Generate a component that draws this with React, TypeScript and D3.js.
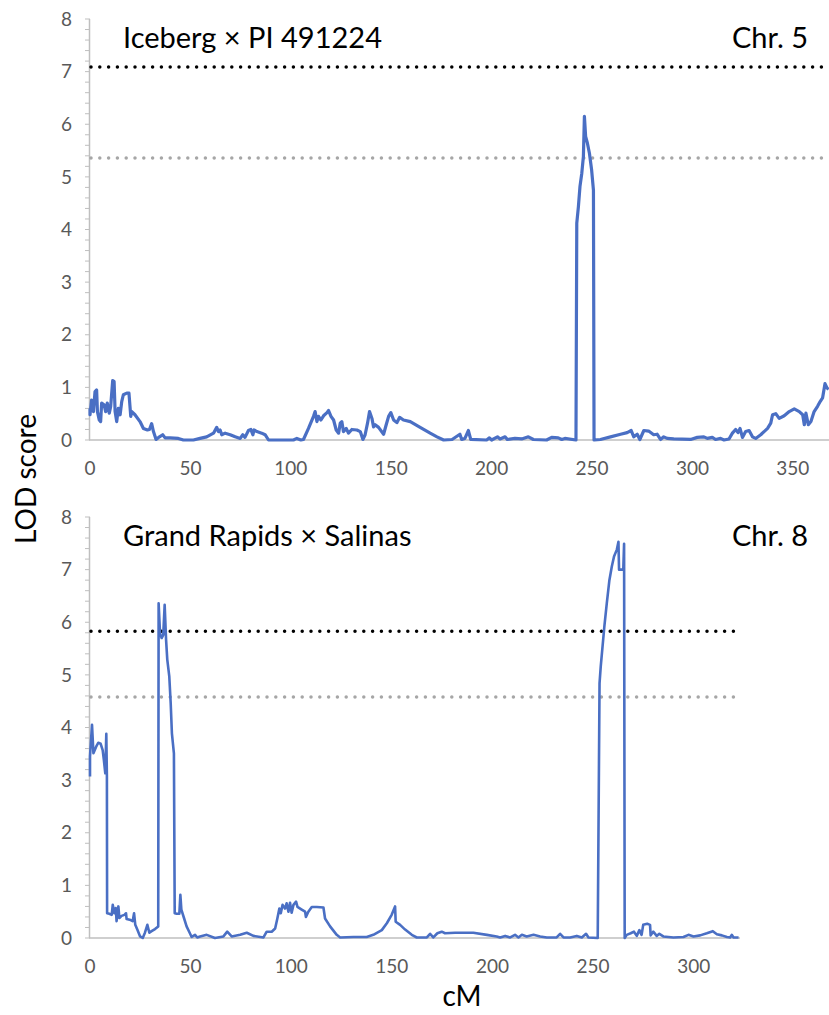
import * as d3 from "d3";

// LOD profiles: [cM, LOD]
const chr5Points: [number, number][] = [
  [0, 0.6], [0, 0.48], [0.8, 0.76], [1.7, 0.54], [2.5, 0.92], [3.3, 0.95], [3.7, 0.54], [4.6, 0.38],
  [5.3, 0.35], [5.8, 0.7], [7.0, 0.67], [7.8, 0.54], [8.6, 0.7], [9.6, 0.51], [10.3, 0.64], [11.3, 1.13],
  [12.0, 1.11], [12.5, 0.54], [13.3, 0.35], [14.1, 0.6], [15.0, 0.48], [15.8, 0.73], [16.6, 0.86],
  [18.3, 0.89], [19.4, 0.89], [20.3, 0.45], [20.8, 0.54], [22.4, 0.48], [24.9, 0.35], [26.6, 0.22],
  [28.6, 0.19], [29.6, 0.2], [30.7, 0.31], [31.6, 0.16], [32.9, 0.01], [34.6, 0.06], [36.2, 0.1],
  [37.4, 0.04], [39.9, 0.04], [44.0, 0.03], [46.5, 0], [51.5, 0], [54.8, 0.03], [58.1, 0.06],
  [61.5, 0.13], [63.1, 0.24], [64.0, 0.16], [64.8, 0.19], [65.6, 0.1], [67.3, 0.13], [69.8, 0.1],
  [72.3, 0.06], [74.8, 0.03], [76.1, 0.1], [77.2, 0.05], [78.9, 0.18], [80.1, 0.2], [81.1, 0.1],
  [81.7, 0.19], [83.1, 0.16], [85.5, 0.13], [87.2, 0.1], [88.9, 0], [101.3, 0], [103.0, 0.03],
  [105.0, 0], [106.3, 0.01], [108.8, 0.22], [111.3, 0.45], [112.1, 0.54], [113.0, 0.35], [113.8, 0.45],
  [115.0, 0.38], [116.3, 0.46], [118.0, 0.52], [118.8, 0.56], [120.0, 0.45], [121.3, 0.38],
  [122.6, 0.19], [123.8, 0.13], [124.6, 0.32], [125.4, 0.35], [126.2, 0.16], [127.6, 0.22],
  [128.7, 0.13], [130.4, 0.2], [132.9, 0.19], [134.6, 0.16], [135.9, 0.01], [137.0, 0.1],
  [138.2, 0.32], [139.2, 0.54], [140.4, 0.41], [141.2, 0.25], [142.0, 0.29], [143.7, 0.24],
  [146.2, 0.11], [147.5, 0.29], [148.7, 0.45], [149.8, 0.52], [151.2, 0.38], [152.8, 0.33],
  [154.2, 0.43], [156.1, 0.38], [159.5, 0.35], [164.4, 0.24], [169.4, 0.13], [172.8, 0.06],
  [176.1, 0], [180.3, 0.01], [184.2, 0.11], [185.1, 0.01], [186.7, 0.03], [188.4, 0.18], [189.6, 0.01],
  [197.5, 0], [198.9, 0.04], [200.0, 0], [202.9, 0.06], [204.2, 0.02], [206.7, 0.06], [207.8, 0.01],
  [211.6, 0.03], [215.0, 0.02], [218.3, 0.06], [220.8, 0.01], [227.4, 0], [229.9, 0.05], [233.2, 0.04],
  [234.9, 0.01], [236.5, 0.03], [242.0, 0], [242.4, 4.12], [243.2, 4.43], [244.0, 4.82], [244.9, 5.07],
  [245.7, 5.39], [246.2, 6.15], [246.8, 5.77], [247.7, 5.64], [248.7, 5.45], [249.8, 5.13],
  [250.7, 4.75], [251.0, 0], [254.2, 0.01], [259.2, 0.06], [264.2, 0.11], [267.5, 0.14], [269.5, 0.18],
  [270.8, 0.06], [272.5, 0.11], [273.8, 0.01], [275.8, 0.18], [278.2, 0.17], [280.7, 0.1],
  [282.4, 0.11], [284.1, 0.01], [285.7, 0.06], [287.4, 0.03], [290.7, 0.02], [299.1, 0.01],
  [302.4, 0.05], [305.7, 0.06], [307.4, 0.03], [309.9, 0.05], [311.5, 0.01], [314.0, 0.03],
  [315.7, 0], [318.2, 0.02], [319.9, 0.13], [321.5, 0.2], [322.7, 0.14], [323.7, 0.22], [324.9, 0.05],
  [326.5, 0.16], [328.2, 0.18], [329.9, 0.06], [331.5, 0.03], [334.0, 0.1], [337.4, 0.22],
  [339.0, 0.32], [339.9, 0.48], [341.5, 0.5], [343.2, 0.41], [345.7, 0.46], [348.2, 0.54],
  [350.7, 0.59], [353.2, 0.54], [354.9, 0.48], [355.7, 0.29], [356.5, 0.51], [357.7, 0.29],
  [359.0, 0.35], [360.6, 0.54], [362.3, 0.64], [363.6, 0.73], [364.8, 0.8], [366.0, 1.07],
  [367.0, 0.99], [367.8, 0.96],
];

const chr8Points: [number, number][] = [
  [0, 3.07], [0, 3.45], [1.0, 4.05], [1.7, 3.51], [3.0, 3.63], [4.1, 3.71], [5.3, 3.69], [6.3, 3.57],
  [6.9, 3.38], [7.6, 3.13], [8.1, 3.88], [8.4, 3.07], [8.5, 0.47], [9.6, 0.46], [10.8, 0.44],
  [11.3, 0.63], [12.1, 0.47], [12.8, 0.57], [13.2, 0.32], [14.1, 0.6], [14.6, 0.38], [15.7, 0.42],
  [17.1, 0.44], [17.9, 0.47], [18.2, 0.36], [20.2, 0.34], [21.2, 0.32], [21.9, 0.47], [22.5, 0.25],
  [23.5, 0.16], [24.9, 0.03], [26.2, 0], [27.3, 0.1], [28.5, 0.25], [29.5, 0.1], [30.6, 0.13],
  [32.3, 0.17], [33.9, 0.22], [34.1, 6.36], [34.8, 5.79], [35.6, 5.7], [36.4, 5.76], [37.1, 6.33],
  [37.8, 5.67], [38.4, 5.29], [39.4, 4.97], [40.1, 4.46], [40.7, 3.89], [41.7, 3.51], [42.1, 0.47],
  [43.1, 0.46], [44.4, 0.46], [44.9, 0.82], [45.4, 0.54], [46.7, 0.38], [48.0, 0.22], [49.4, 0.11],
  [50.5, 0.02], [52.2, 0.06], [53.3, 0.01], [54.7, 0.03], [58.0, 0.06], [62.1, 0], [66.3, 0.03],
  [68.2, 0.12], [70.4, 0.03], [74.6, 0.06], [77.9, 0.1], [81.2, 0.04], [86.2, 0.01], [87.8, 0.12],
  [90.3, 0.12], [92.0, 0.18], [93.1, 0.37], [94.1, 0.56], [94.8, 0.47], [95.7, 0.63], [96.9, 0.56],
  [97.7, 0.66], [98.6, 0.5], [99.4, 0.67], [100.2, 0.48], [101.1, 0.63], [102.4, 0.69], [103.1, 0.59],
  [105.2, 0.54], [106.9, 0.5], [107.3, 0.4], [108.5, 0.5], [110.2, 0.59], [112.7, 0.59], [116.0, 0.58],
  [116.8, 0.37], [119.3, 0.22], [122.6, 0.06], [124.3, 0.01], [130.9, 0.02], [137.5, 0.02],
  [140.8, 0.06], [145.0, 0.15], [147.5, 0.28], [149.9, 0.44], [151.6, 0.6], [151.9, 0.31],
  [154.1, 0.25], [156.6, 0.16], [159.9, 0.06], [162.4, 0.01], [167.4, 0.01], [169.0, 0.08],
  [170.6, 0.01], [172.6, 0.09], [174.8, 0.12], [176.4, 0.09], [181.4, 0.1], [190.5, 0.1],
  [197.2, 0.06], [202.1, 0.03], [203.8, 0.01], [206.3, 0.04], [208.8, 0.01], [211.2, 0.06],
  [212.9, 0.01], [214.6, 0.06], [217.0, 0.03], [220.4, 0.06], [223.7, 0.03], [227.0, 0.01],
  [231.9, 0.01], [233.6, 0.08], [235.3, 0.01], [238.6, 0.01], [241.9, 0.04], [244.4, 0.01],
  [246.5, 0.08], [247.7, 0.01], [252.3, 0], [253.2, 4.84], [253.8, 5.16], [254.7, 5.54], [255.6, 5.92],
  [256.8, 6.36], [258.1, 6.8], [259.3, 7.06], [260.4, 7.25], [261.8, 7.38], [262.6, 7.53],
  [262.9, 7.0], [265.0, 7.0], [265.4, 7.49], [265.7, 0], [266.7, 0.06], [268.7, 0.09], [270.3, 0.12],
  [271.7, 0.04], [273.0, 0.15], [274.1, 0.06], [274.9, 0.25], [276.9, 0.27], [278.3, 0.25],
  [278.6, 0.05], [279.9, 0.12], [281.6, 0.04], [282.9, 0.08], [284.9, 0.03], [289.9, 0.01],
  [294.9, 0.02], [297.4, 0.06], [299.9, 0.03], [303.2, 0.05], [306.5, 0.09], [309.5, 0.13],
  [311.5, 0.07], [314.0, 0.05], [316.5, 0.02], [318.1, 0.01], [318.9, 0.06], [319.8, 0.01],
  [322.3, 0.01],
];

const chr5Thresholds = [7.09, 5.36];
const chr8Thresholds = [5.83, 4.58];
const yTicks = [0, 1, 2, 3, 4, 5, 6, 7, 8];
const chr5XTicks = [0, 50, 100, 150, 200, 250, 300, 350];
const chr8XTicks = [0, 50, 100, 150, 200, 250, 300];

const FONT = "Lato, 'Open Sans', sans-serif";
const BLUE = "#4A6FC4";
const AXIS = "#BFBFBF";
const TICKTEXT = "#595959";

type PanelProps = {
  points: [number, number][];
  thresholds: number[];
  xTicks: number[];
  xMax: number;
  x0: number;
  x1: number;
  top: number;
  bottom: number;
  title: string;
  chr: string;
  lineWidth: number;
};

const Panel = ({points, thresholds, xTicks, xMax, x0, x1, top, bottom, title, chr, lineWidth}: PanelProps) => {
  const x = d3.scaleLinear().domain([0, xMax]).range([x0, x1]);
  const y = d3.scaleLinear().domain([0, 8]).range([bottom, top]);
  const line = d3.line<[number, number]>().x(d => x(d[0])).y(d => y(d[1]));
  const minor = d3.range(0, 40.5, 1).map(i => i * 0.2);

  return (
    <g>
      {/* y axis */}
      <line x1={x0 - 0.5} x2={x0 - 0.5} y1={y(8)} y2={y(0)} stroke={AXIS} strokeWidth={1.5}/>
      {minor.map((t, i) => (
        <line key={"m" + i} x1={x0 - 5} x2={x0} y1={y(t)} y2={y(t)} stroke={AXIS} strokeWidth={1}/>
      ))}
      {yTicks.map(t => (
        <text key={"y" + t} x={x0 - 18} y={y(t)} dy="0.35em" textAnchor="end"
              fontSize={19} fill={TICKTEXT} fontFamily={FONT}>{t}</text>
      ))}
      {/* x axis */}
      <line x1={x0 - 1} x2={x1} y1={y(0)} y2={y(0)} stroke={AXIS} strokeWidth={1.5}/>
      {xTicks.map(t => (
        <text key={"x" + t} x={x(t)} y={y(0) + 35} textAnchor="middle"
              fontSize={19} fill={TICKTEXT} fontFamily={FONT}>{t}</text>
      ))}
      {/* threshold lines */}
      {thresholds.map((t, i) => (
        <line key={"t" + i} x1={x0 + 1} x2={x1} y1={y(t)} y2={y(t)}
              stroke={i === 0 ? "#000" : "#A6A6A6"} strokeWidth={3.5}
              strokeLinecap="round" strokeDasharray="0 8.8"/>
      ))}
      <path d={line(points) ?? ""} fill="none" stroke={BLUE} strokeWidth={lineWidth} strokeLinejoin="round"/>
      <text x={123} y={top + 29} fontSize={29} fontFamily={FONT} fill="#000">{title}</text>
      <text x={808} y={top + 29} fontSize={29} fontFamily={FONT} fill="#000" textAnchor="end">{chr}</text>
    </g>
  );
};

export default function App() {
  return (
    <svg width={829} height={1015} style={{display: "block", position: "absolute", left: 0, top: 0}}>
      <rect width={829} height={1015} fill="#fff"/>
      <Panel points={chr5Points} thresholds={chr5Thresholds} xTicks={chr5XTicks} xMax={368}
             x0={90} x1={829} top={19} bottom={440} title="Iceberg × PI 491224" chr="Chr. 5" lineWidth={3.2}/>
      <Panel points={chr8Points} thresholds={chr8Thresholds} xTicks={chr8XTicks} xMax={323}
             x0={90} x1={740} top={517} bottom={938} title="Grand Rapids × Salinas" chr="Chr. 8" lineWidth={2.6}/>
      <text transform="translate(36,479) rotate(-90)" textAnchor="middle" fontSize={28}
            fontFamily={FONT} fill="#000">LOD score</text>
      <text x={462} y={1006} textAnchor="middle" fontSize={28} fontFamily={FONT} fill="#000">cM</text>
    </svg>
  );
}
